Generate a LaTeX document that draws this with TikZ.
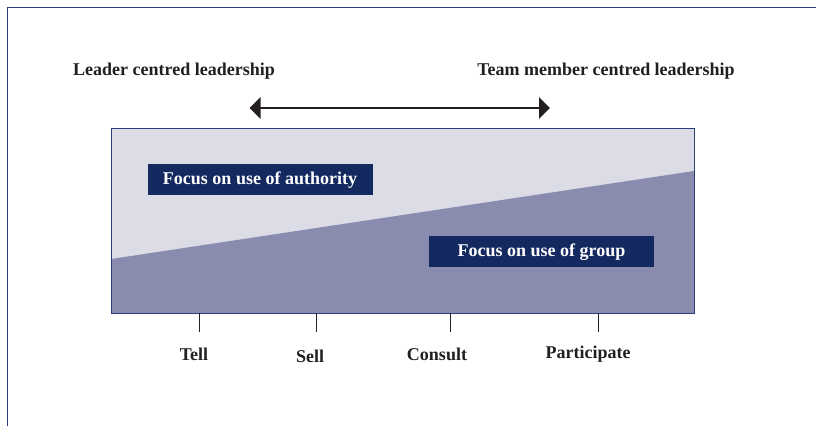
\documentclass[tikz,border=0pt]{standalone}
\usepackage{fontspec}
\setmainfont{Liberation Serif}
\usetikzlibrary{arrows.meta}
\definecolor{framecol}{HTML}{2B3F7A}
\definecolor{lightband}{HTML}{DCDCE7}
\definecolor{darkband}{HTML}{898CAF}
\definecolor{navybox}{HTML}{13295F}
\definecolor{inkcol}{HTML}{231F20}
\begin{document}
\begin{tikzpicture}
  [x=1pt, y=-1pt,
   heading/.style={font=\fontsize{18}{20}\selectfont\bfseries, text=inkcol, inner sep=0pt},
   focusbox/.style={fill=navybox, text=white, font=\fontsize{18}{20}\selectfont\bfseries,
                    text height=12pt, text depth=2pt,
                    minimum width=225pt, minimum height=31pt, inner sep=0pt},
   stylelabel/.style={font=\fontsize{18}{20}\selectfont\bfseries, text=inkcol, inner sep=0pt},
   tick/.style={draw=inkcol, line width=0.8pt},
   spanarrow/.style={draw=inkcol, line width=2.6pt, {Triangle[width=21pt,length=11pt]}-{Triangle[width=21pt,length=11pt]}}]
  \useasboundingbox (0,0) rectangle (816,426);

  % frame
  \draw[framecol, line width=0.8pt] (7,426) -- (7,7) -- (816,7);

  % headings
  \node[heading] (leader) at (174,71) {Leader centred leadership};
  \node[heading] (team) at (606,71) {Team member centred leadership};

  % range arrow
  \coordinate (arrL) at (249.5,108);
  \coordinate (arrR) at (550,108);
  \draw[spanarrow] (arrL) -- (arrR);

  % continuum
  \fill[lightband] (111,128) rectangle (694,313);
  \fill[darkband] (111,259) -- (694,171) -- (694,313) -- (111,313) -- cycle;
  \draw[framecol, line width=0.8pt] (111,128) rectangle (694,313);

  \node[focusbox] (auth) at (260,179.5) {Focus on use of authority};
  \node[focusbox] (group) at (541.5,251.5) {Focus on use of group};

  % styles along the axis
  \foreach \name/\x in {tell/199, sell/316, consult/450, part/598}
  {
    \coordinate (\name top) at (\x,313);
    \coordinate (\name end) at (\x,332);
    \draw[tick] (\name top) -- (\name end);
  }
  \node[stylelabel] (tell) at (194,354) {Tell};
  \node[stylelabel] (sell) at (310,356) {Sell};
  \node[stylelabel] (consult) at (437,354) {Consult};
  \node[stylelabel] (part) at (588,354) {Participate};
\end{tikzpicture}
\end{document}
